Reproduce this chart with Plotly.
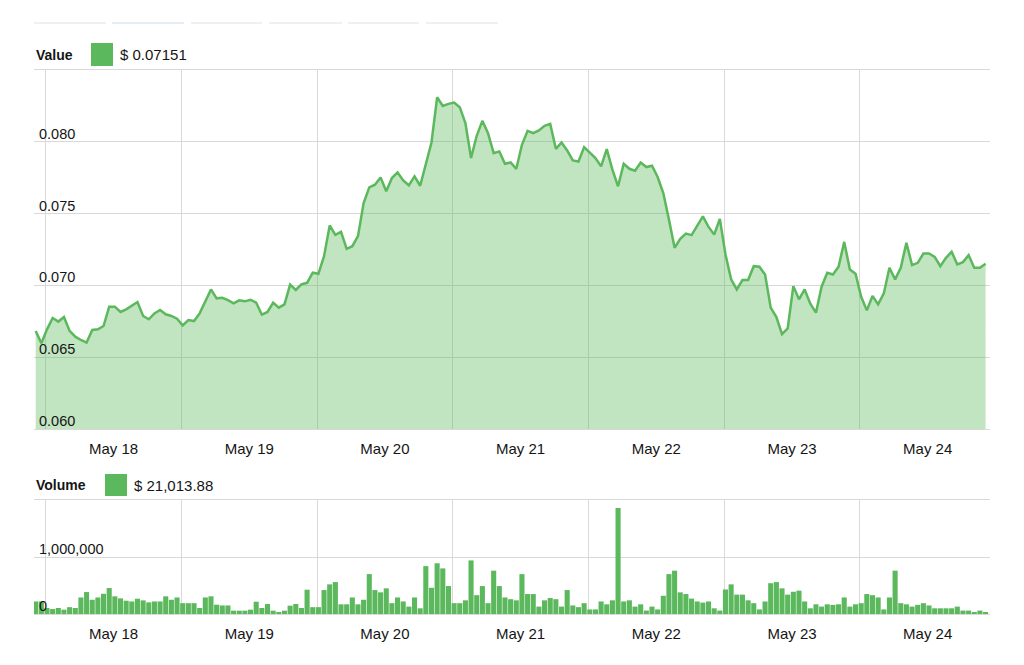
import plotly.graph_objects as go
import pandas as pd

# ---------------- data ----------------
start_time = "2018-05-17 22:14"
price = [
    0.06683, 0.06597, 0.06694, 0.06773, 0.06748, 0.06780, 0.06683, 0.06643, 0.06620, 0.06602,
    0.06690, 0.06694, 0.06717, 0.06852, 0.06852, 0.06815, 0.06833, 0.06861, 0.06884, 0.06787,
    0.06764, 0.06805, 0.06829, 0.06799, 0.06787, 0.06768, 0.06722, 0.06759, 0.06752, 0.06805,
    0.06884, 0.06972, 0.06910, 0.06914, 0.06898, 0.06875, 0.06896, 0.06889, 0.06900, 0.06880,
    0.06796, 0.06815, 0.06880, 0.06845, 0.06868, 0.07005, 0.06968, 0.07007, 0.07018, 0.07088,
    0.07081, 0.07204, 0.07417, 0.07352, 0.07373, 0.07255, 0.07273, 0.07343, 0.07574, 0.07683,
    0.07701, 0.07752, 0.07655, 0.07748, 0.07787, 0.07731, 0.07697, 0.07759, 0.07694, 0.07840,
    0.07995, 0.08310, 0.08250, 0.08264, 0.08273, 0.08241, 0.08130, 0.07887, 0.08042, 0.08146,
    0.08060, 0.07921, 0.07933, 0.07847, 0.07856, 0.07812, 0.07979, 0.08076, 0.08060, 0.08079,
    0.08111, 0.08125, 0.07951, 0.07995, 0.07940, 0.07870, 0.07863, 0.07963, 0.07926, 0.07887,
    0.07829, 0.07949, 0.07806, 0.07690, 0.07847, 0.07812, 0.07799, 0.07856, 0.07824, 0.07833,
    0.07755, 0.07643, 0.07458, 0.07262, 0.07324, 0.07361, 0.07350, 0.07417, 0.07481, 0.07407,
    0.07354, 0.07463, 0.07215, 0.07042, 0.06972, 0.07037, 0.07037, 0.07134, 0.07130, 0.07076,
    0.06845, 0.06780, 0.06660, 0.06701, 0.06995, 0.06903, 0.06972, 0.06873, 0.06810, 0.06991,
    0.07088, 0.07076, 0.07130, 0.07303, 0.07111, 0.07081, 0.06921, 0.06826, 0.06926, 0.06868,
    0.06944, 0.07123, 0.07042, 0.07123, 0.07296, 0.07141, 0.07157, 0.07222, 0.07222, 0.07199,
    0.07134, 0.07192, 0.07234, 0.07146, 0.07162, 0.07211, 0.07123, 0.07123, 0.07151,
]
volume_thousands = [
    220, 220, 105, 87, 105, 76, 120, 105, 290, 385,
    250, 290, 355, 455, 310, 274, 233, 220, 268, 239,
    204, 220, 220, 310, 250, 290, 190, 190, 190, 105,
    290, 310, 163, 150, 150, 58, 58, 58, 76, 216,
    105, 175, 58, 35, 58, 146, 175, 105, 426, 120,
    120,
    420, 520, 560, 170, 170, 290, 170, 250, 700, 420,
    380, 450, 190, 290, 220, 130, 290, 100, 840, 460,
    890, 800, 490, 190, 190, 240, 940, 330, 490, 190,
    760, 490, 290, 260, 240, 700, 350, 350, 130, 240,
    280, 260, 130, 420, 150, 120, 190, 80, 80, 220,
    170, 240, 1860, 220, 240, 130, 170, 60,
    130, 80, 320, 700, 760, 380, 350, 270, 220, 200,
    220, 100, 60, 430, 520, 340, 340, 240, 190, 80,
    220, 540, 560, 450, 340, 390, 410, 220, 100, 170,
    130, 170, 160, 170, 290, 130, 170, 190, 350, 330,
    290, 80, 290, 760, 190, 170, 130, 160, 190, 150,
    100, 100, 100, 100, 130, 60, 60, 30, 60, 30,
]
volume = [v * 1000 for v in volume_thousands]
price_ticks = [0.060, 0.065, 0.070, 0.075, 0.080]
volume_ticks = [0, 1000000]
volume_label = "$ 21,013.88"

times = pd.date_range(start_time, periods=len(price), freq="h")

# ---------------- style / geometry ----------------
GREEN = "#5cb85c"
FILL = "rgba(92,184,92,0.38)"
GRID = "#d9d9d9"
TXT = "#151515"
FONT = "Liberation Sans, Arial, sans-serif"

OFF = 8  # page body margin: figure is drawn at (8, 8) in the window
W, H = 1024 - OFF, 665 - OFF
# plot-area bounds in window pixels
L, R, T, B = 34, 990, 70, 614


def px(x):
    return (x - L) / (R - L)


def py(y):
    return (B - y) / (B - T)


x_range = ["2018-05-17 21:56", "2018-05-24 23:01"]

fig = go.Figure()
fig.add_trace(go.Scatter(
    x=times, y=price, mode="lines",
    line=dict(color=GREEN, width=2.5),
    fill="tozeroy", fillcolor=FILL,
    xaxis="x", yaxis="y", hoverinfo="x+y",
))
fig.add_trace(go.Bar(
    x=times, y=volume, marker=dict(color=GREEN, line=dict(width=0)),
    xaxis="x2", yaxis="y2",
))

xcommon = dict(
    type="date", range=x_range, dtick=86400000, tick0="2018-05-18",
    ticklabelmode="period", tickformat="%b %d",
    showgrid=True, gridcolor=GRID, gridwidth=1,
    showline=True, mirror=True, linecolor=GRID, linewidth=1,
    ticks="", zeroline=False, fixedrange=True, ticklabelstandoff=6,
    tickfont=dict(size=15, color=TXT, family=FONT),
)
ycommon = dict(
    showgrid=True, gridcolor=GRID, gridwidth=1, zeroline=False,
    showline=False, ticks="", ticklabelposition="inside",
    ticklabeloverflow="allow",
    ticklabelshift=-8, ticklabelstandoff=2, fixedrange=True,
    tickfont=dict(size=14.5, color=TXT, family=FONT),
)

fig.update_layout(
    width=W, height=H,
    margin=dict(l=L - OFF, r=W + OFF - R, t=T - OFF, b=H + OFF - B, pad=0),
    paper_bgcolor="white", plot_bgcolor="white",
    showlegend=False, bargap=0.1,
    font=dict(family=FONT, color=TXT, size=14),
    xaxis=dict(domain=[0, 1], anchor="y", **xcommon),
    xaxis2=dict(domain=[0, 1], anchor="y2", **xcommon),
    yaxis=dict(domain=[py(429), 1], anchor="x", range=[0.060, 0.085],
               tickvals=price_ticks, tickformat=".3f", **ycommon),
    yaxis2=dict(domain=[0, py(500)], anchor="x2", range=[0, 2000000],
                tickvals=volume_ticks, tickformat=",d", **ycommon),
)

annotations = [
    dict(text="<b>Value</b>", x=px(34), y=py(55), font=dict(size=14)),
    dict(text=f"$ {price[-1]:.5f}", x=px(118), y=py(55), font=dict(size=15)),
    dict(text="<b>Volume</b>", x=px(34), y=py(485), font=dict(size=14)),
    dict(text=volume_label, x=px(132), y=py(485), font=dict(size=15)),
]
for a in annotations:
    a.update(xref="paper", yref="paper", xanchor="left", yanchor="middle",
             showarrow=False)
    a["font"].update(color=TXT, family=FONT)
fig.update_layout(annotations=annotations)

shapes = [
    dict(type="rect", xref="paper", yref="paper", x0=px(91), x1=px(113),
         y0=py(66), y1=py(43), fillcolor=GREEN, line=dict(width=0)),
    dict(type="rect", xref="paper", yref="paper", x0=px(105), x1=px(127),
         y0=py(496), y1=py(474), fillcolor=GREEN, line=dict(width=0)),
]
tab_segments = [(34, 106), (112, 184), (191, 262), (269, 342), (348, 419), (426, 498)]
for k, (a, b) in enumerate(tab_segments):
    shapes.append(dict(type="line", xref="paper", yref="paper",
                       x0=px(a), x1=px(b), y0=py(23), y1=py(23),
                       line=dict(color="#e4ecf6" if k == 1 else "#eef0f3", width=2)))
fig.update_layout(shapes=shapes)

fig.write_html("out.html", config={"displayModeBar": False})
